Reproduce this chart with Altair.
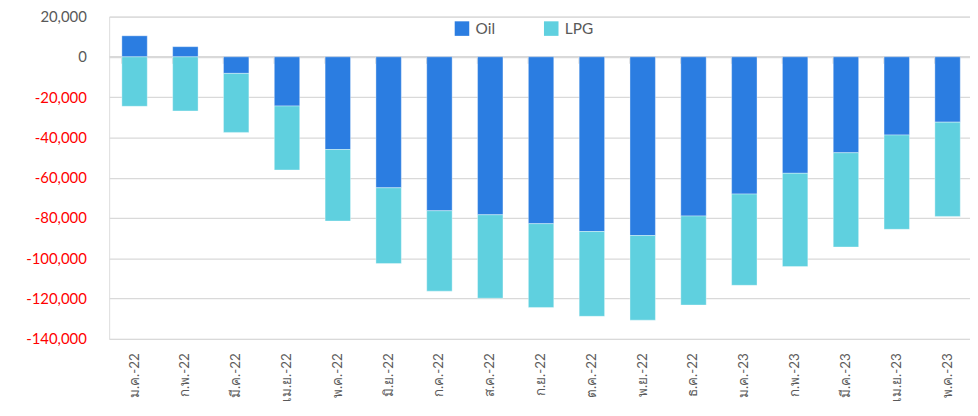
import altair as alt
import pandas as pd

months = ["ม.ค.-22", "ก.พ.-22", "มี.ค.-22", "เม.ย.-22", "พ.ค.-22", "มิ.ย.-22",
          "ก.ค.-22", "ส.ค.-22", "ก.ย.-22", "ต.ค.-22", "พ.ย.-22", "ธ.ค.-22",
          "ม.ค.-23", "ก.พ.-23", "มี.ค.-23", "เม.ย.-23", "พ.ค.-23"]
oil = [10450, 5050, -8200, -24400, -46000, -65000, -76400, -78400, -82800,
       -86700, -88700, -79000, -68100, -57800, -47600, -38800, -32400]
lpg = [-24540, -26850, -29300, -31750, -35500, -37600, -39900, -41400, -41600,
       -42100, -42000, -44200, -45300, -46300, -46800, -46800, -46800]
series = ["Oil", "LPG"]
colors = ["#2B7DE1", "#5FD0DF"]

rows = []
for i, m in enumerate(months):
    rows.append({"month": m, "series": "Oil", "ord": 0, "value": oil[i]})
    rows.append({"month": m, "series": "LPG", "ord": 1, "value": lpg[i]})
df = pd.DataFrame(rows)

FONT = "Lato"
W, H = 868, 325
ymin, ymax = -140000, 20000
zero_px = H * ymax / (ymax - ymin)

xscale = alt.Scale(domain=months, paddingInner=0.5, paddingOuter=0.25, range=[0, 871])
yscale = alt.Scale(domain=[ymin, ymax], nice=False)

bars = alt.Chart(df).mark_bar(stroke="#ffffff", strokeWidth=0.6, strokeOpacity=0.6).encode(
    x=alt.X("month:N", sort=months, scale=xscale, title=None,
            axis=alt.Axis(labelAngle=270, labelAlign="right", labelBaseline="middle",
                          labelPadding=14, labelFontSize=13.5, labelColor="#595959",
                          labelFont=FONT, ticks=False, domain=False, grid=False)),
    y=alt.Y("value:Q", stack="zero", scale=yscale, title=None,
            axis=alt.Axis(values=list(range(ymin, ymax + 1, 20000)),
                          labelExpr="replace(format(datum.value, ','), '\u2212', '-')",
                          labelColor={"condition": {"test": "datum.value < 0", "value": "#FF0000"},
                                      "value": "#595959"},
                          labelFontSize=15, labelFont=FONT, labelPadding=23,
                          ticks=False, domain=False, grid=True, gridColor="#D9D9D9",
                          gridWidth=1.3)),
    color=alt.Color("series:N", scale=alt.Scale(domain=series, range=colors),
                    legend=alt.Legend(title=None, orient="none", direction="horizontal",
                                      legendX=348, legendY=4, symbolType="square",
                                      symbolSize=215, symbolStrokeWidth=0,
                                      labelFontSize=15.5, labelFont=FONT,
                                      labelColor="#595959", labelOffset=6,
                                      columnPadding=48, padding=0)),
    order=alt.Order("ord:Q"),
)

zero_line = alt.Chart(pd.DataFrame({"v": [0]})).mark_rule(color="#D9D9D9", strokeWidth=1.5).encode(
    y=alt.Y("v:Q", scale=yscale),
)

ticks = alt.Chart(pd.DataFrame({"month": months})).mark_rule(color="#D9D9D9", strokeWidth=1.5).encode(
    x=alt.X("month:N", sort=months, scale=xscale, bandPosition=0),
    y=alt.value(zero_px),
    y2=alt.value(zero_px + 7),
)

chart = alt.layer(zero_line, ticks, bars).properties(
    width=W, height=H,
    autosize="none",
    padding={"left": 102, "top": 7, "right": 0, "bottom": 62},
).configure_view(stroke=None).configure(font=FONT)

chart.save("out.html", embed_options={"renderer": "svg", "actions": False})
